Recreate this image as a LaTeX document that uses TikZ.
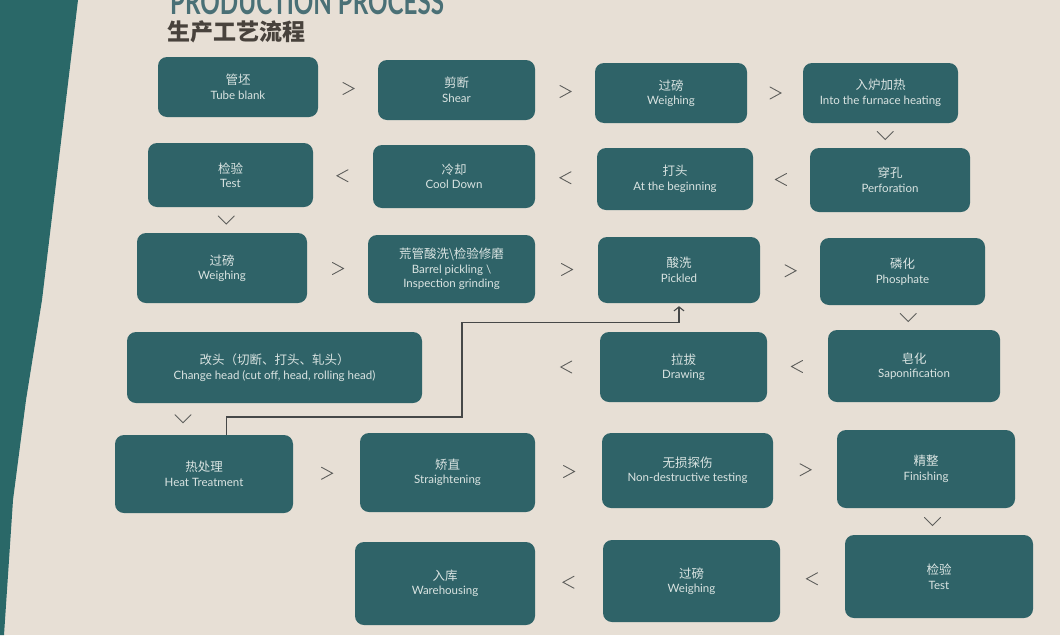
\documentclass[tikz,border=0pt]{standalone}
\usepackage{fontspec}
\setmainfont{Lato}
\newfontfamily\cjk{Noto Sans CJK SC}
\usetikzlibrary{calc,arrows.meta}
\definecolor{paper}{RGB}{231,223,213}
\definecolor{boxc}{RGB}{47,99,104}
\definecolor{strip}{RGB}{42,104,104}
\definecolor{txt}{RGB}{218,228,226}
\definecolor{chevc}{RGB}{95,95,92}
\definecolor{ttl}{RGB}{74,112,118}
\definecolor{ttlcn}{RGB}{72,66,60}
\definecolor{linec}{RGB}{70,72,72}
\tikzset{
  box/.style={fill=boxc, rounded corners=9pt, text=txt, align=center, inner sep=0pt,
    font=\fontsize{11.5}{14.5}\selectfont},
  chev/.style={draw=chevc, line width=0.9pt, line cap=round},
  conn/.style={draw=linec, line width=1.1pt},
}
\newcommand\bx[2]{{\cjk\fontsize{12.5}{14.5}\selectfont #1}\\#2}
\newcommand\chR[1]{\draw[chev, shift={#1}] (-5,-6) -- (6,0) -- (-5,6);}
\newcommand\chL[1]{\draw[chev, shift={#1}] (5,-6) -- (-6,0) -- (5,6);}
\newcommand\chD[1]{\draw[chev, shift={#1}] (-8,-4) -- (0,4) -- (8,-4);}
\begin{document}
\begin{tikzpicture}[x=1pt,y=-1pt]
\useasboundingbox (0,0) rectangle (1060,635);
\clip (0,0) rectangle (1060,635);
\fill[paper] (0,0) rectangle (1060,635);
\fill[strip] (0,0) -- (78,0) -- (60,150) -- (42,300) -- (26,400) -- (13,500) -- (4,635) -- (0,635) -- cycle;
% titles
\node[anchor=base west, text=ttl, inner sep=0pt] (t0) at (170,14)
  {\scalebox{0.69}[1]{\fontsize{35}{35}\selectfont\bfseries PRODUCTION PROCESS}};
\node[anchor=base west, text=ttlcn, inner sep=0pt] (t1) at (167,40)
  {\cjk\bfseries\fontsize{23}{24}\selectfont 生产工艺流程};
% row 1
\node[box, minimum width=160pt, minimum height=60pt] (tb) at (238,87) {\bx{管坯}{Tube blank}};
\node[box, minimum width=157pt, minimum height=60pt] (sh) at (456.5,90) {\bx{剪断}{Shear}};
\node[box, minimum width=152pt, minimum height=60pt] (w1) at (671,93) {\bx{过磅}{Weighing}};
\node[box, minimum width=155pt, minimum height=60pt] (fu) at (880.5,93) {\bx{入炉加热}{Into the furnace heating}};
% row 2
\node[box, minimum width=160pt, minimum height=64pt] (pf) at (890,180) {\bx{穿孔}{Perforation}};
\node[box, minimum width=156pt, minimum height=62pt] (ab) at (675,179) {\bx{打头}{At the beginning}};
\node[box, minimum width=162pt, minimum height=63pt] (cd) at (454,176.5) {\bx{冷却}{Cool Down}};
\node[box, minimum width=165pt, minimum height=64pt] (t1b) at (230.5,175) {\bx{检验}{Test}};
% row 3
\node[box, minimum width=170pt, minimum height=70pt] (w2) at (222,268) {\bx{过磅}{Weighing}};
\node[box, minimum width=167pt, minimum height=68pt] (bp) at (451.5,269)
  {{\cjk\fontsize{12.5}{14.5}\selectfont 荒管酸洗\textbackslash 检验修磨}\\Barrel pickling \textbackslash\\Inspection grinding};
\node[box, minimum width=162pt, minimum height=66pt] (pk) at (679,270) {\bx{酸洗}{Pickled}};
\node[box, minimum width=165pt, minimum height=67pt] (ph) at (902.5,271.5) {\bx{磷化}{Phosphate}};
% row 4
\node[box, minimum width=172pt, minimum height=72pt] (sp) at (914,366) {\bx{皂化}{Saponification}};
\node[box, minimum width=167pt, minimum height=70pt] (dr) at (683.5,367) {\bx{拉拔}{Drawing}};
\node[box, minimum width=295pt, minimum height=71pt] (ch) at (274.5,367.5)
  {\bx{改头（切断、打头、轧头）}{Change head (cut off, head, rolling head)}};
% row 5
\node[box, minimum width=178pt, minimum height=78pt] (ht) at (204,474) {\bx{热处理}{Heat Treatment}};
\node[box, minimum width=175pt, minimum height=79pt] (st) at (447.5,472.5) {\bx{矫直}{Straightening}};
\node[box, minimum width=171pt, minimum height=75pt] (nd) at (687.5,470.5) {\bx{无损探伤}{Non-destructive testing}};
\node[box, minimum width=178pt, minimum height=78pt] (fi) at (926,469) {\bx{精整}{Finishing}};
% row 6
\node[box, minimum width=188pt, minimum height=83pt] (t2) at (939,576.5) {\bx{检验}{Test}};
\node[box, minimum width=177pt, minimum height=82pt] (w3) at (691.5,581) {\bx{过磅}{Weighing}};
\node[box, minimum width=180pt, minimum height=83pt] (wh) at (445,583.5) {\bx{入库}{Warehousing}};
% chevrons
\chR{($(tb.east)!0.5!(sh.west)$)}
\chR{($(sh.east)!0.5!(w1.west)$)}
\chR{($(w1.east)!0.5!(fu.west)$)}
\chD{($(fu.south)!0.5!(pf.north)$)}
\chL{($(pf.west)!0.5!(ab.east)$)}
\chL{($(ab.west)!0.5!(cd.east)$)}
\chL{($(cd.west)!0.5!(t1b.east)$)}
\chD{($(t1b.south)!0.5!(w2.north)$)}
\chR{($(w2.east)!0.5!(bp.west)$)}
\chR{($(bp.east)!0.5!(pk.west)$)}
\chR{($(pk.east)!0.5!(ph.west)$)}
\chD{($(ph.south)!0.5!(sp.north)$)}
\chL{($(sp.west)!0.5!(dr.east)$)}
\chL{($(dr.west)+(-33,0)$)}
\chD{($(ht.north)+(-21,-16)$)}
\chR{($(ht.east)!0.5!(st.west)$)}
\chR{($(st.east)!0.5!(nd.west)$)}
\chR{($(nd.east)!0.5!(fi.west)$)}
\chD{($(fi.south)!0.5!(t2.north)$)}
\chL{($(t2.west)!0.5!(w3.east)$)}
\chL{($(w3.west)!0.5!(wh.east)$)}
% connector heat treatment -> pickled
\coordinate (hs) at ($(ht.north west)+(112,0)$);
\coordinate (k1) at (462,417);
\coordinate (k2) at ($(pk.south)+(0,19)$);
\draw[conn, -{Straight Barb[length=4pt,width=10pt]}] (hs) |- (k1) |- (k2) -- ($(pk.south)+(0,3)$);
\end{tikzpicture}
\end{document}
